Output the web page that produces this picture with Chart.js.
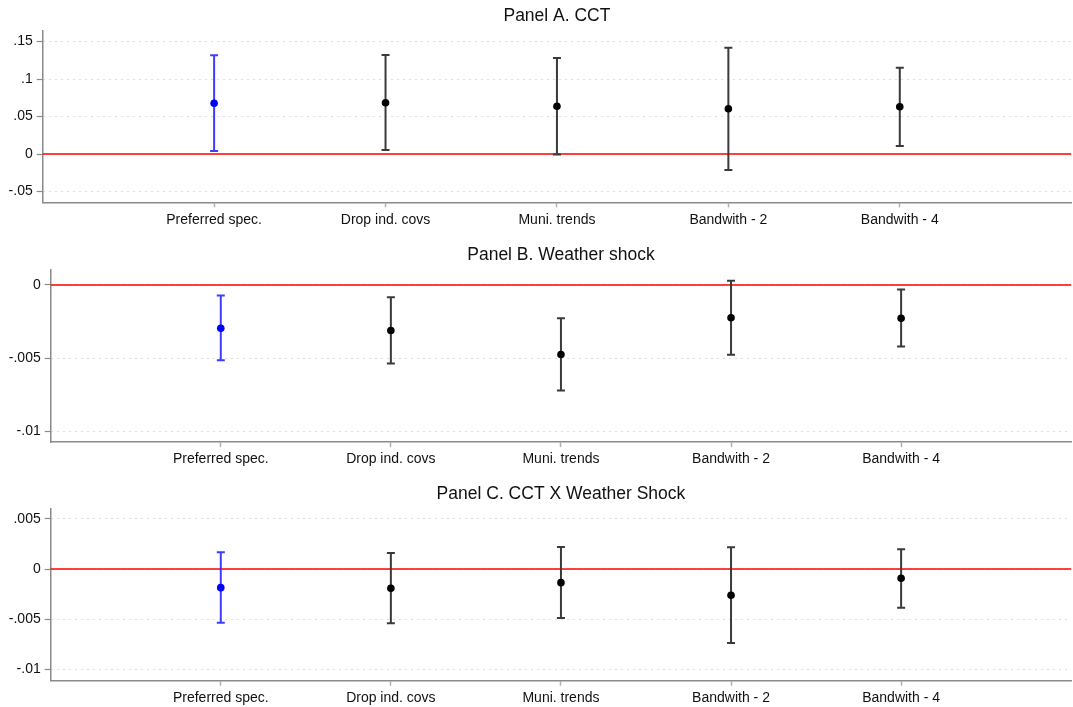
<!DOCTYPE html>
<html>
<head>
<meta charset="utf-8">
<script src="https://cdn.jsdelivr.net/npm/chart.js@4"></script>
<style>
  html, body { margin: 0; padding: 0; background: #fff; overflow: hidden; }
  body { width: 1073px; height: 707px; position: relative; }
  .panel { position: absolute; left: 0; width: 1075px; }
</style>
</head>
<body>
<div class="panel" id="wrapA"><canvas id="panelA"></canvas></div>
<div class="panel" id="wrapB"><canvas id="panelB"></canvas></div>
<div class="panel" id="wrapC"><canvas id="panelC"></canvas></div>
<script>
// x categories
const categories = ['Preferred spec.', 'Drop ind. covs', 'Muni. trends', 'Bandwith - 2', 'Bandwith - 4'];
const titles = ['Panel A. CCT', 'Panel B. Weather shock', 'Panel C. CCT X Weather Shock'];

// Panel A - CCT
const cctEstimates = [0.0676, 0.0684, 0.0636, 0.0604, 0.0630];
const cctLower = [0.0040, 0.0053, -0.0008, -0.0213, 0.0107];
const cctUpper = [0.1316, 0.1320, 0.1280, 0.1418, 0.1150];
const cctTicks = [-0.05, 0, 0.05, 0.1, 0.15];
const cctTickLabels = ['-.05', '0', '.05', '.1', '.15'];

// Panel B - weather shock
const weatherEstimates = [-0.00296, -0.00312, -0.00476, -0.00225, -0.00228];
const weatherLower = [-0.00515, -0.00538, -0.00722, -0.00478, -0.00421];
const weatherUpper = [-0.00073, -0.00085, -0.00228, 0.00029, -0.00032];
const weatherTicks = [-0.01, -0.005, 0];
const weatherTickLabels = ['-.01', '-.005', '0'];

// Panel C - interaction
const interEstimates = [-0.00185, -0.00192, -0.00135, -0.00261, -0.00092];
const interLower = [-0.00533, -0.00540, -0.00487, -0.00735, -0.00384];
const interUpper = [0.00166, 0.00159, 0.00219, 0.00216, 0.00196];
const interTicks = [-0.01, -0.005, 0, 0.005];
const interTickLabels = ['-.01', '-.005', '0', '.005'];

const fontFamily = '"Liberation Sans", Arial, Helvetica, sans-serif';
const axisGray = '#8a8a8a';

// red line at zero + error bars (caps), drawn before the points
const errorBars = {
  id: 'errorBars',
  beforeDatasetsDraw(chart) {
    const ctx = chart.ctx;
    const area = chart.chartArea;
    const x = chart.scales.x;
    const y = chart.scales.y;
    const y0 = y.getPixelForValue(0);
    ctx.save();
    ctx.strokeStyle = '#ff0000';
    ctx.lineWidth = 1.5;
    ctx.beginPath();
    ctx.moveTo(area.left, y0);
    ctx.lineTo(area.right, y0);
    ctx.stroke();

    const ds = chart.data.datasets[0];
    ds.data.forEach((p, i) => {
      const px = x.getPixelForValue(p.x);
      const lo = y.getPixelForValue(ds.lower[i]);
      const hi = y.getPixelForValue(ds.upper[i]);
      ctx.strokeStyle = i === 0 ? 'rgba(40,40,255,0.9)' : '#3a3a3a';
      ctx.lineWidth = 2;
      ctx.beginPath();
      ctx.moveTo(px, lo);
      ctx.lineTo(px, hi);
      ctx.moveTo(px - 4, lo);
      ctx.lineTo(px + 4, lo);
      ctx.moveTo(px - 4, hi);
      ctx.lineTo(px + 4, hi);
      ctx.stroke();
    });
    ctx.restore();
  }
};

function makePanel(canvasId, wrapId, opts) {
  const wrap = document.getElementById(wrapId);
  wrap.style.top = opts.top + 'px';
  wrap.style.height = opts.height + 'px';
  const xHeight = opts.top + opts.height - opts.plotBottom;

  new Chart(document.getElementById(canvasId), {
    type: 'scatter',
    data: {
      datasets: [{
        data: opts.est.map((v, i) => ({ x: i + 1, y: v })),
        lower: opts.lo,
        upper: opts.hi,
        pointRadius: 3.8,
        pointHoverRadius: 3.8,
        pointBorderWidth: 0,
        pointBackgroundColor: opts.est.map((v, i) => i === 0 ? '#0000ff' : '#000000')
      }]
    },
    options: {
      responsive: true,
      maintainAspectRatio: false,
      animation: false,
      events: [],
      layout: { padding: 0 },
      plugins: {
        legend: { display: false },
        tooltip: { enabled: false },
        title: {
          display: true,
          fullSize: false,
          text: opts.title,
          color: '#111',
          font: { family: fontFamily, size: 17.5, weight: 'normal' },
          padding: { top: 5.5, bottom: 4.2 }
        }
      },
      scales: {
        x: {
          type: 'linear',
          min: 0,
          max: 6,
          afterFit: s => { s.height = xHeight; },
          afterBuildTicks: s => { s.ticks = categories.map((c, i) => ({ value: i + 1 })); },
          ticks: {
            autoSkip: false,
            maxRotation: 0,
            padding: 4,
            color: '#111',
            font: { family: fontFamily, size: 14 },
            callback: v => categories[v - 1]
          },
          grid: { drawOnChartArea: false, drawTicks: true, tickLength: 5, tickColor: '#b0b0b0', tickWidth: 1.5 },
          border: { display: true, color: axisGray, width: 1.5 }
        },
        y: {
          min: opts.min,
          max: opts.max,
          afterFit: s => { s.width = opts.axisWidth; },
          afterBuildTicks: s => { s.ticks = opts.ticks.map(v => ({ value: v })); },
          ticks: {
            padding: 4,
            color: '#111',
            font: { family: fontFamily, size: 14 },
            callback: v => opts.labels[opts.ticks.findIndex(t => Math.abs(t - v) < 1e-9)]
          },
          grid: {
            color: '#bdbdbd',
            lineWidth: 1,
            drawTicks: true,
            tickLength: 6,
            tickColor: axisGray,
            tickWidth: 1.2
          },
          border: { display: true, color: axisGray, width: 1.5, dash: [1, 5] }
        }
      }
    },
    plugins: [errorBars]
  });
}

makePanel('panelA', 'wrapA', {
  title: titles[0], est: cctEstimates, lo: cctLower, hi: cctUpper,
  ticks: cctTicks, labels: cctTickLabels, min: -0.0644, max: 0.1644,
  axisWidth: 42.7, top: 0, height: 232, plotBottom: 202.3
});
makePanel('panelB', 'wrapB', {
  title: titles[1], est: weatherEstimates, lo: weatherLower, hi: weatherUpper,
  ticks: weatherTicks, labels: weatherTickLabels, min: -0.01075, max: 0.00104,
  axisWidth: 50.7, top: 238.6, height: 232, plotBottom: 441.7
});
makePanel('panelC', 'wrapC', {
  title: titles[2], est: interEstimates, lo: interLower, hi: interUpper,
  ticks: interTicks, labels: interTickLabels, min: -0.0111, max: 0.006,
  axisWidth: 50.7, top: 477.6, height: 229.4, plotBottom: 680.3
});
</script>
</body>
</html>
